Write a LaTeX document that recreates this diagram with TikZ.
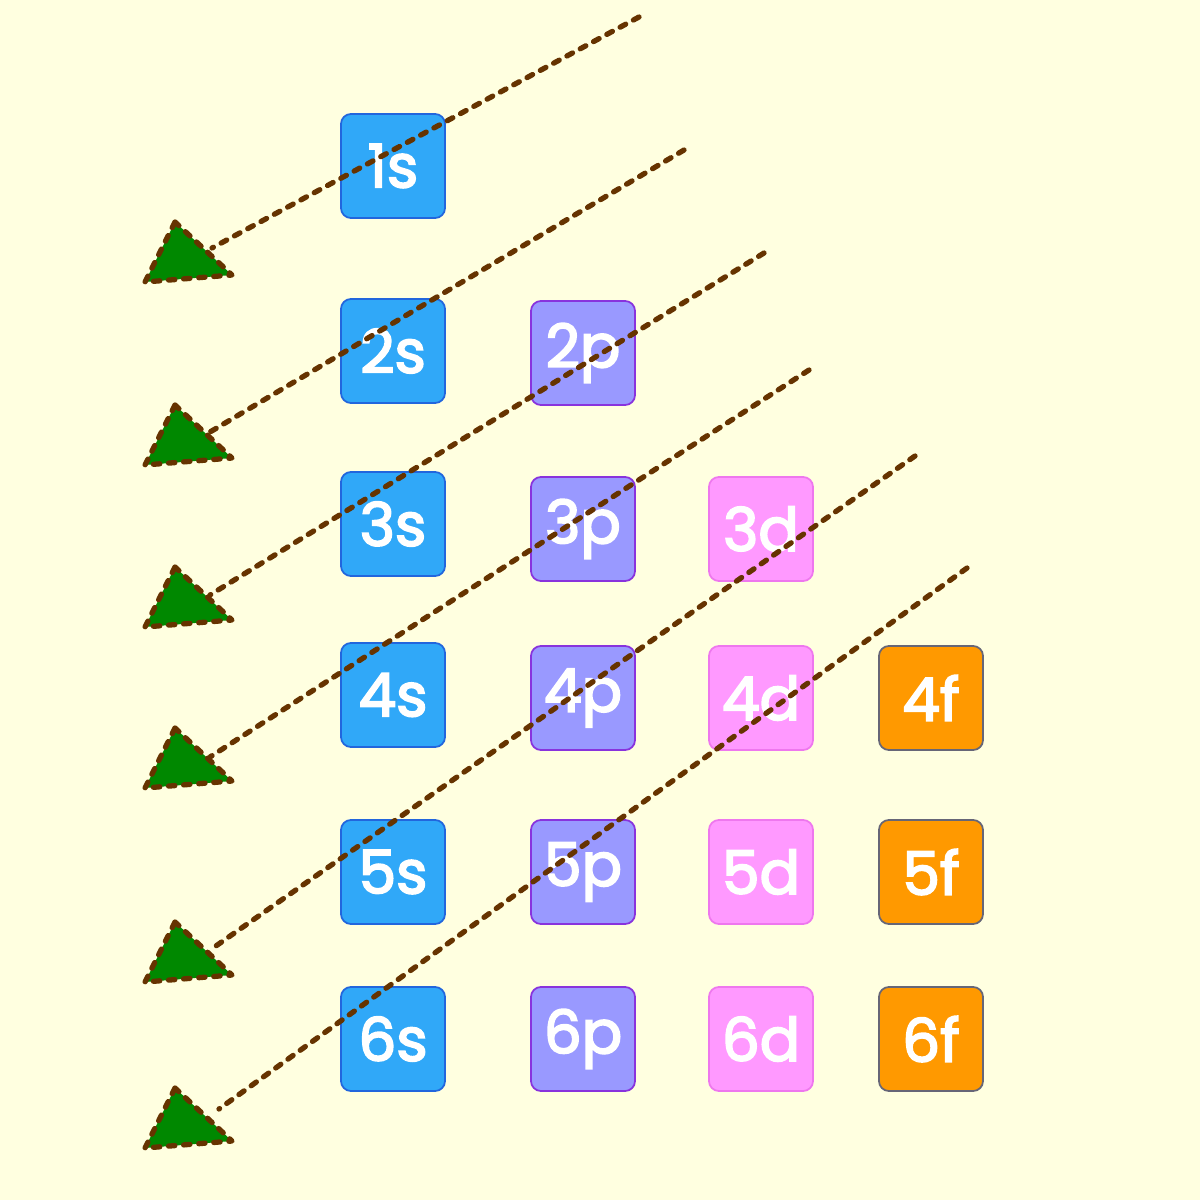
\documentclass[tikz,border=0pt]{standalone}
\usepackage{fontspec}
\setmainfont{Poppins}
\newfontfamily\orbfont{Poppins}[FakeBold=3]
\definecolor{paper}{HTML}{FFFFE0}
\definecolor{sfill}{HTML}{30A8F8}
\definecolor{sline}{HTML}{2266DD}
\definecolor{pfill}{HTML}{9999FF}
\definecolor{pline}{HTML}{8833DD}
\definecolor{dfill}{HTML}{FF99FF}
\definecolor{dline}{HTML}{EE77EE}
\definecolor{ffill}{HTML}{FF9900}
\definecolor{fline}{HTML}{666677}
\definecolor{diagbrown}{HTML}{663300}
\definecolor{tipgreen}{HTML}{008800}

\begin{document}
\begin{tikzpicture}[x=0.01cm,y=-0.01cm,
  orb/.style={rounded corners=0.1cm,minimum size=1.04cm,inner sep=0pt,text=white,
              font=\fontsize{17}{17}\orbfont,line width=0.5pt},
  sorb/.style={orb,fill=sfill,draw=sline},
  porb/.style={orb,fill=pfill,draw=pline},
  dorb/.style={orb,fill=dfill,draw=dline},
  forb/.style={orb,fill=ffill,draw=fline},
  diag/.style={draw=diagbrown,line width=1.5pt,dash pattern=on 1.8pt off 2.5pt,line cap=round},
  arrowtri/.style={diag,fill=tipgreen,line join=round}]

\fill[paper] (0,0) rectangle (1200,1200);
\useasboundingbox (0,0) rectangle (1200,1200);

\node[sorb]   (s1) at (393,166)      {1s};
\node[sorb]   (s2) at (393,351)      {2s};
\node[porb]   (p2) at (583,353)      {2p};
\node[sorb]   (s3) at (393,524)      {3s};
\node[porb]   (p3) at (583,529)      {3p};
\node[dorb]   (d3) at (761,529)      {3d};
\node[sorb]   (s4) at (393,695)      {4s};
\node[porb]   (p4) at (583,698)      {4p};
\node[dorb]   (d4) at (761,698)      {4d};
\node[forb]   (f4) at (931,698)      {4f};
\node[sorb]   (s5) at (393,872)      {5s};
\node[porb]   (p5) at (583,872)      {5p};
\node[dorb]   (d5) at (761,872)      {5d};
\node[forb]   (f5) at (931,872)      {5f};
\node[sorb]   (s6) at (393,1039)     {6s};
\node[porb]   (p6) at (583,1039)     {6p};
\node[dorb]   (d6) at (761,1039)     {6d};
\node[forb]   (f6) at (931,1039)     {6f};

% diagonal rule: start, end, triangle apex
\coordinate (a1) at (639,17);   \coordinate (b1) at (212,248);  \coordinate (h1) at (175,222);
\coordinate (a2) at (684,150);  \coordinate (b2) at (210,432);  \coordinate (h2) at (175,405);
\coordinate (a3) at (764,253);  \coordinate (b3) at (210,595);  \coordinate (h3) at (175,567);
\coordinate (a4) at (809,370);  \coordinate (b4) at (210,757);  \coordinate (h4) at (175,728);
\coordinate (a5) at (915,456);  \coordinate (b5) at (213,948);  \coordinate (h5) at (175,922);
\coordinate (a6) at (967,568);  \coordinate (b6) at (219,1109); \coordinate (h6) at (175,1088);

\draw[arrowtri] (h1) -- ++(-30,60) -- ++(87,-7) -- cycle;
\draw[arrowtri] (h2) -- ++(-30,60) -- ++(87,-7) -- cycle;
\draw[arrowtri] (h3) -- ++(-30,60) -- ++(87,-7) -- cycle;
\draw[arrowtri] (h4) -- ++(-30,60) -- ++(87,-7) -- cycle;
\draw[arrowtri] (h5) -- ++(-30,60) -- ++(87,-7) -- cycle;
\draw[arrowtri] (h6) -- ++(-30,60) -- ++(87,-7) -- cycle;

\draw[diag] (a1) -- (b1);
\draw[diag] (a2) -- (b2);
\draw[diag] (a3) -- (b3);
\draw[diag] (a4) -- (b4);
\draw[diag] (a5) -- (b5);
\draw[diag] (a6) -- (b6);
\end{tikzpicture}
\end{document}
